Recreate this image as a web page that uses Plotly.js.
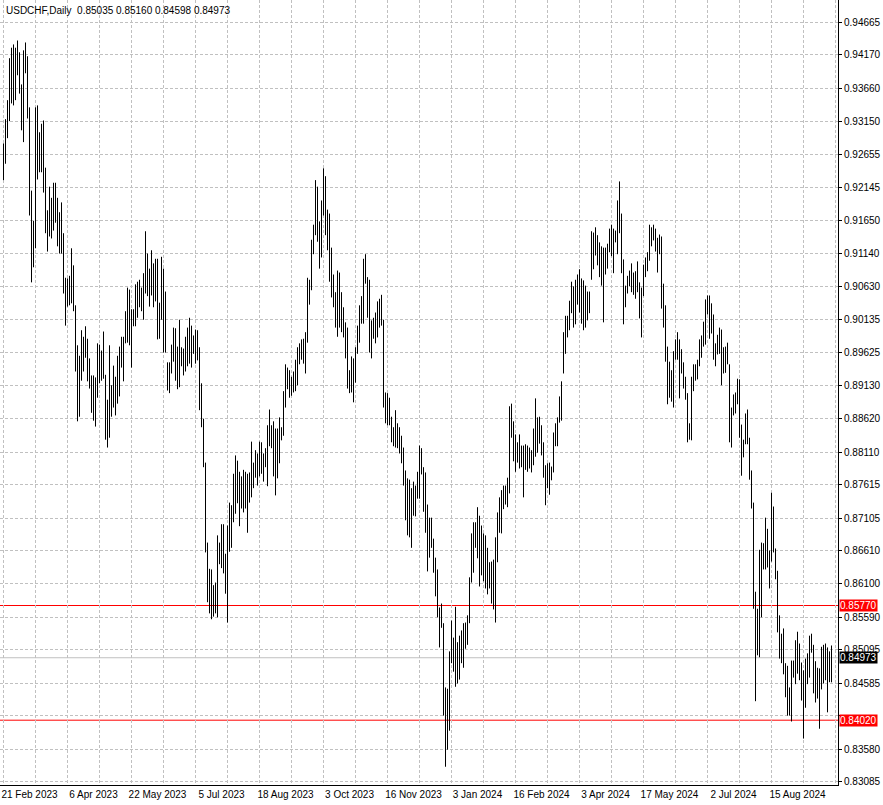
<!DOCTYPE html>
<html>
<head>
<meta charset="utf-8">
<script src="https://cdn.plot.ly/plotly-3.0.1.min.js"></script>
<style>html,body{margin:0;padding:0;background:#fff;}#chart{width:883px;height:805px;}</style>
</head>
<body>
<div id="chart"></div>
<script>
// Daily highs and lows of USDCHF, one value per trading day (oldest first)
const highs = [
0.9282,0.9319,0.9348,0.9412,0.9428,0.9433,0.9428,0.9439,0.9421,0.9372,
0.9424,0.9436,0.9415,0.9337,0.9210,0.9164,0.9337,0.9340,0.9299,0.9312,
0.9317,0.9245,0.9180,0.9216,0.9199,0.9222,0.9222,0.9199,0.9177,0.9192,
0.9145,0.9077,0.9076,0.9080,0.9122,0.9096,0.9035,0.8974,0.8958,0.8997,
0.8987,0.9003,0.8984,0.8954,0.8928,0.8928,0.8925,0.8977,0.8975,0.8966,
0.8995,0.8929,0.8891,0.8974,0.8913,0.8943,0.8926,0.8958,0.8972,0.8987,
0.8987,0.9026,0.9062,0.9059,0.9029,0.9029,0.9067,0.9071,0.9074,0.9062,
0.9084,0.9148,0.9114,0.9091,0.9119,0.9099,0.9106,0.9106,0.9039,0.9109,
0.9091,0.9056,0.8948,0.8948,0.8975,0.9001,0.9000,0.8972,0.9013,0.8971,
0.8969,0.8987,0.9001,0.9016,0.9004,0.8989,0.8998,0.8997,0.8971,0.8916,
0.8862,0.8795,0.8673,0.8633,0.8632,0.8608,0.8612,0.8684,0.8673,0.8701,
0.8701,0.8656,0.8699,0.8734,0.8730,0.8778,0.8806,0.8798,0.8781,0.8774,
0.8784,0.8781,0.8778,0.8780,0.8827,0.8795,0.8814,0.8809,0.8827,0.8826,
0.8809,0.8817,0.8852,0.8876,0.8852,0.8858,0.8847,0.8847,0.8864,0.8849,
0.8904,0.8945,0.8940,0.8936,0.8926,0.8934,0.8952,0.8971,0.8977,0.8983,
0.8984,0.8994,0.9077,0.9074,0.9135,0.9158,0.9226,0.9216,0.9163,0.9195,
0.9244,0.9232,0.9181,0.9175,0.9123,0.9082,0.9055,0.9088,0.9085,0.9055,
0.9032,0.9009,0.9001,0.8936,0.8957,0.8954,0.8971,0.9004,0.9035,0.9049,
0.9106,0.9113,0.9078,0.9074,0.9012,0.9016,0.9024,0.9041,0.9045,0.9051,
0.9013,0.8902,0.8901,0.8894,0.8865,0.8849,0.8875,0.8855,0.8849,0.8836,
0.8818,0.8783,0.8771,0.8769,0.8756,0.8766,0.8760,0.8781,0.8821,0.8817,
0.8788,0.8780,0.8731,0.8711,0.8711,0.8679,0.8650,0.8632,0.8574,0.8580,
0.8550,0.8452,0.8450,0.8507,0.8554,0.8528,0.8575,0.8521,0.8531,0.8539,
0.8550,0.8551,0.8562,0.8620,0.8687,0.8704,0.8704,0.8727,0.8714,0.8699,
0.8687,0.8684,0.8665,0.8643,0.8644,0.8647,0.8681,0.8719,0.8742,0.8753,
0.8760,0.8760,0.8772,0.8881,0.8885,0.8858,0.8838,0.8826,0.8838,0.8821,
0.8821,0.8823,0.8821,0.8818,0.8814,0.8847,0.8893,0.8864,0.8865,0.8852,
0.8826,0.8791,0.8794,0.8795,0.8789,0.8841,0.8855,0.8864,0.8896,0.8919,
0.8994,0.9019,0.9019,0.9042,0.9071,0.9064,0.9074,0.9082,0.9090,0.9076,
0.9073,0.9065,0.9056,0.9056,0.9148,0.9146,0.9154,0.9142,0.9131,0.9125,
0.9123,0.9123,0.9129,0.9152,0.9158,0.9152,0.9149,0.9195,0.9224,0.9175,
0.9105,0.9065,0.9080,0.9088,0.9099,0.9085,0.9087,0.9102,0.9070,0.9062,
0.9097,0.9108,0.9116,0.9158,0.9154,0.9158,0.9152,0.9138,0.9143,0.9140,
0.9068,0.9035,0.8972,0.8949,0.8936,0.8965,0.8983,0.8994,0.8983,0.8968,
0.8948,0.8926,0.8901,0.8855,0.8926,0.8945,0.8945,0.8952,0.8983,0.8989,
0.9010,0.9044,0.9050,0.9050,0.9038,0.9021,0.8977,0.8990,0.9001,0.8998,
0.8971,0.8972,0.8978,0.8945,0.8879,0.8899,0.8902,0.8923,0.8922,0.8853,
0.8830,0.8870,0.8876,0.8833,0.8783,0.8734,0.8598,0.8572,0.8662,0.8673,
0.8672,0.8711,0.8694,0.8661,0.8749,0.8728,0.8664,0.8630,0.8562,0.8534,
0.8542,0.8489,0.8485,0.8452,0.8493,0.8493,0.8524,0.8537,0.8519,0.8490,
0.8478,0.8496,0.8504,0.8531,0.8534,0.8517,0.8492,0.8482,0.8481,0.8514,
0.8517,0.8519,0.8513,0.8507,0.85160
];
const lows = [
0.9226,0.9251,0.9290,0.9316,0.9343,0.9340,0.9348,0.9386,0.9358,0.9302,
0.9284,0.9389,0.9320,0.9172,0.9070,0.9093,0.9122,0.9227,0.9238,0.9238,
0.9207,0.9145,0.9117,0.9140,0.9137,0.9149,0.9161,0.9125,0.9114,0.9114,
0.9053,0.9004,0.9033,0.9035,0.9038,0.9026,0.8934,0.8858,0.8865,0.8920,
0.8934,0.8955,0.8919,0.8908,0.8871,0.8859,0.8850,0.8894,0.8916,0.8920,
0.8923,0.8830,0.8818,0.8833,0.8865,0.8879,0.8867,0.8885,0.8896,0.8940,
0.8919,0.8977,0.8978,0.8974,0.8940,0.9003,0.9003,0.9016,0.9032,0.9026,
0.9013,0.9053,0.9049,0.9033,0.9050,0.9032,0.9041,0.8983,0.8984,0.9013,
0.8963,0.8963,0.8905,0.8901,0.8931,0.8949,0.8920,0.8907,0.8910,0.8942,
0.8928,0.8934,0.8942,0.8946,0.8940,0.8961,0.8946,0.8951,0.8875,0.8849,
0.8788,0.8658,0.8582,0.8565,0.8556,0.8560,0.8565,0.8559,0.8640,0.8634,
0.8626,0.8595,0.8551,0.8659,0.8665,0.8704,0.8717,0.8733,0.8698,0.8725,
0.8719,0.8725,0.8688,0.8734,0.8742,0.8756,0.8772,0.8760,0.8774,0.8778,
0.8766,0.8788,0.8759,0.8820,0.8817,0.8774,0.8745,0.8771,0.8794,0.8829,
0.8836,0.8879,0.8907,0.8894,0.8897,0.8902,0.8904,0.8913,0.8945,0.8952,
0.8946,0.8931,0.8978,0.9036,0.9058,0.9113,0.9142,0.9132,0.9091,0.9108,
0.9172,0.9142,0.9119,0.9071,0.9047,0.9032,0.9001,0.8987,0.9001,0.8994,
0.8986,0.8954,0.8908,0.8901,0.8902,0.8887,0.8917,0.8961,0.8978,0.9007,
0.9007,0.9068,0.9016,0.8963,0.8954,0.8984,0.8977,0.8986,0.9001,0.9004,
0.8879,0.8855,0.8852,0.8852,0.8826,0.8820,0.8818,0.8817,0.8809,0.8794,
0.8760,0.8707,0.8684,0.8681,0.8665,0.8714,0.8713,0.8740,0.8740,0.8777,
0.8720,0.8688,0.8629,0.8650,0.8665,0.8627,0.8591,0.8559,0.8513,0.8543,
0.8409,0.8331,0.8357,0.8386,0.8489,0.8476,0.8453,0.8458,0.8464,0.8489,
0.8482,0.8511,0.8517,0.8550,0.8612,0.8627,0.8665,0.8649,0.8606,0.8623,
0.8614,0.8603,0.8594,0.8603,0.8580,0.8571,0.8551,0.8643,0.8688,0.8687,
0.8724,0.8731,0.8727,0.8748,0.8833,0.8797,0.8781,0.8795,0.8786,0.8788,
0.8742,0.8784,0.8781,0.8786,0.8780,0.8791,0.8804,0.8810,0.8824,0.8806,
0.8772,0.8730,0.8756,0.8746,0.8768,0.8780,0.8820,0.8820,0.8856,0.8859,
0.8931,0.8961,0.8986,0.8997,0.9023,0.9001,0.9006,0.9036,0.9024,0.9007,
0.8997,0.9001,0.9012,0.9023,0.9074,0.9090,0.9111,0.9096,0.9078,0.9065,
0.9009,0.9082,0.9091,0.9116,0.9110,0.9084,0.9131,0.9113,0.9145,0.9084,
0.9006,0.9032,0.9053,0.9064,0.9055,0.9051,0.9045,0.9055,0.9015,0.8986,
0.9049,0.9078,0.9087,0.9103,0.9125,0.9134,0.9117,0.9085,0.9113,0.9030,
0.9001,0.8949,0.8884,0.8894,0.8888,0.8879,0.8952,0.8952,0.8893,0.8931,
0.8908,0.8891,0.8826,0.8830,0.8829,0.8904,0.8920,0.8922,0.8942,0.8955,
0.8972,0.8975,0.9021,0.8984,0.8992,0.8952,0.8942,0.8960,0.8961,0.8913,
0.8931,0.8932,0.8945,0.8826,0.8818,0.8867,0.8870,0.8884,0.8833,0.8775,
0.8803,0.8823,0.8823,0.8769,0.8725,0.8572,0.8431,0.8501,0.8498,0.8559,
0.8632,0.8632,0.8635,0.8603,0.8644,0.8658,0.8617,0.8536,0.8496,0.8489,
0.8472,0.8437,0.8409,0.8409,0.8400,0.8467,0.8457,0.8473,0.8463,0.8432,
0.8374,0.8421,0.8457,0.8467,0.8505,0.8443,0.8429,0.8435,0.8389,0.8449,
0.8458,0.8463,0.8414,0.8460,0.84598
];
// Date labels and the bar (trading day) each one marks
const dateLabels = ['21 Feb 2023','6 Apr 2023','22 May 2023','5 Jul 2023','18 Aug 2023','3 Oct 2023',
  '16 Nov 2023','3 Jan 2024','16 Feb 2024','3 Apr 2024','17 May 2024','2 Jul 2024','15 Aug 2024'];
const dateLabelBars = [0,32,64,96,128,160,192,224,256,288,320,352,384];
// Price scale labels (0.84090 is hidden behind the 0.84020 level label)
const priceTicks = [0.94665,0.94170,0.93660,0.93150,0.92655,0.92145,0.91650,0.91140,0.90630,0.90135,
  0.89625,0.89130,0.88620,0.88110,0.87615,0.87105,0.86610,0.86100,0.85590,0.85095,0.84585,0.84090,
  0.83580,0.83085];
const hiddenTicks = [0.84090];
// Horizontal levels and last bar
const levelLines = [0.85770, 0.84020];
const lastOpen = 0.85035, lastHigh = 0.85160, lastLow = 0.84598, lastClose = 0.84973;
const symbolTitle = 'USDCHF,Daily';

// Build vertical high-low segments
const segX = [], segY = [];
highs.forEach((h, i) => { segX.push(i, i, null); segY.push(lows[i], h, null); });

// Grid every half label interval
const gridVals = [], gridText = [];
for (let k = 0; k <= 416; k += 16) {
  gridVals.push(k);
  const li = dateLabelBars.indexOf(k);
  gridText.push(li >= 0 ? dateLabels[li] : '');
}

const FONT = 'Liberation Sans, Arial, sans-serif';
const gridColor = '#c0c0c0';

const annotations = [
  {xref:'paper', yref:'paper', x:0, y:1, xanchor:'left', yanchor:'top', xshift:4, yshift:-3, showarrow:false,
   text: symbolTitle + '\u00a0\u00a0' + [lastOpen, lastHigh, lastLow, lastClose].map(v => v.toFixed(5)).join(' '),
   font:{family:FONT, size:10, color:'#000'}}
];
levelLines.forEach(v => annotations.push({xref:'paper', yref:'y', x:1, y:v, xanchor:'left', yanchor:'middle',
  xshift:1, showarrow:false, text:v.toFixed(5), bgcolor:'#ff0000', borderpad:0,
  font:{family:FONT, size:10, color:'#fff'}}));
annotations.push({xref:'paper', yref:'y', x:1, y:lastClose, xanchor:'left', yanchor:'middle',
  xshift:1, showarrow:false, text:lastClose.toFixed(5), bgcolor:'#000', borderpad:0,
  font:{family:FONT, size:10, color:'#fff'}});

const shapes = levelLines.map(v => ({type:'line', xref:'paper', yref:'y', x0:0, x1:1, y0:v, y1:v,
  line:{color:'#ff0000', width:1}, layer:'below'}));
shapes.push({type:'line', xref:'paper', yref:'y', x0:0, x1:1, y0:lastClose, y1:lastClose,
  line:{color:'#c0c0c0', width:1}, layer:'below'});

const trace = {type:'scatter', mode:'lines', x:segX, y:segY, connectgaps:false,
  line:{color:'#000', width:1}, hoverinfo:'skip', showlegend:false};

const layout = {
  width:883, height:805,
  margin:{l:0, r:45, t:0, b:20, pad:0},
  paper_bgcolor:'#fff', plot_bgcolor:'#fff',
  showlegend:false,
  font:{family:FONT, size:10, color:'#000'},
  xaxis:{range:[-1.75, 417.25], tickmode:'array', tickvals:gridVals, ticktext:gridText,
    showgrid:true, gridcolor:gridColor, griddash:'3px,2px', gridwidth:1, zeroline:false,
    showline:true, linecolor:'#000', linewidth:1, mirror:true, ticks:'', ticklabelshift:26,
    tickfont:{family:FONT, size:10, color:'#000'}, automargin:false, fixedrange:true},
  yaxis:{range:[0.830314, 0.950081], side:'right', tickmode:'array', tickvals:priceTicks,
    ticktext:priceTicks.map(v => hiddenTicks.includes(v) ? '' : v.toFixed(5)), showgrid:true,
    gridcolor:gridColor, griddash:'3px,2px',
    gridwidth:1, zeroline:false, showline:true, linecolor:'#000', linewidth:1, mirror:true,
    ticks:'outside', ticklen:3, tickcolor:'#000', tickfont:{family:FONT, size:10, color:'#000'},
    automargin:false, fixedrange:true},
  shapes:shapes,
  annotations:annotations
};

Plotly.newPlot('chart', [trace], layout, {displayModeBar:false, staticPlot:true});
</script>
</body>
</html>
